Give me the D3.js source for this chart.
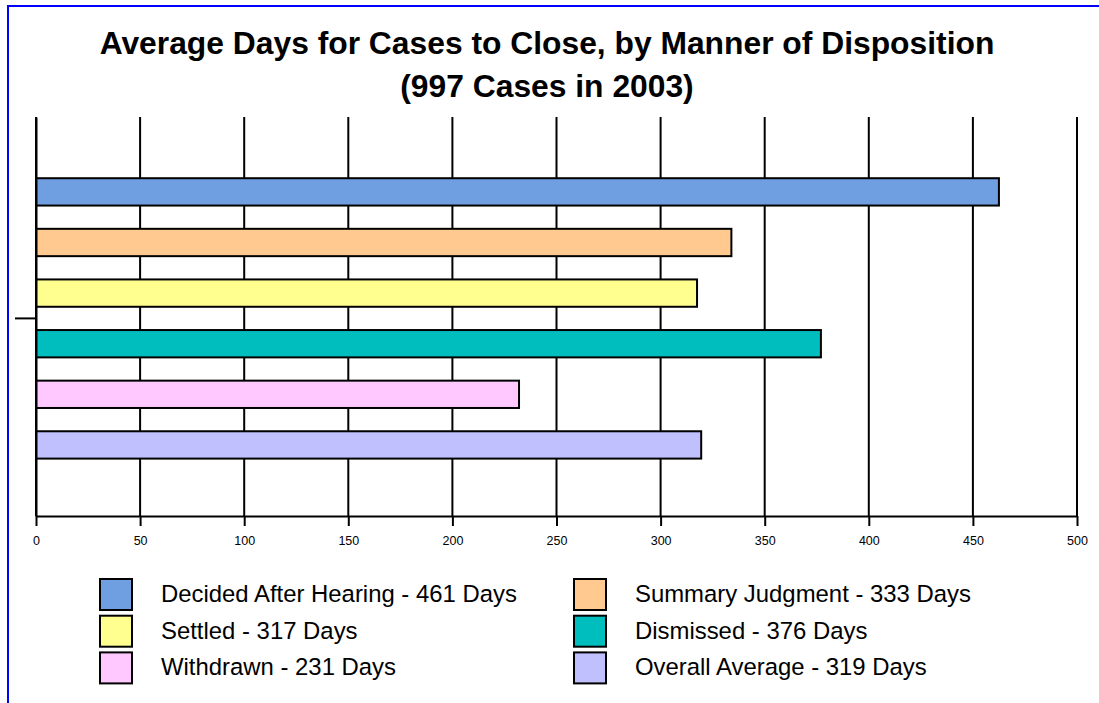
<!DOCTYPE html>
<html>
<head>
<meta charset="utf-8">
<script src="https://cdn.jsdelivr.net/npm/d3@7"></script>
<style>
    body { margin: 0; background: #ffffff; }
    svg { display: block; font-family: "Liberation Sans", Arial, sans-serif; }
</style>
</head>
<body>
<svg id="drawing_region"></svg>
<script>
const titleLines = ["Average Days for Cases to Close, by Manner of Disposition", "(997 Cases in 2003)"];
const groups = ["2003"];
const dispositions = ["Decided After Hearing", "Summary Judgment", "Settled", "Dismissed", "Withdrawn", "Overall Average"];
// bar lengths as drawn in the picture, and the rounded figures printed in the legend
const barDays = [462.5, 334, 317.5, 377, 232, 319.5];
const labelDays = [461, 333, 317, 376, 231, 319];
const barColors = ["#6f9fe0", "#ffc990", "#ffff90", "#00bebe", "#ffc8ff", "#c0c0ff"];
const xTicks = [0, 50, 100, 150, 200, 250, 300, 350, 400, 450, 500];

class DaysBarChart {

    constructor( config, data ) {
        this.config = {
            parent: config.parent,
            width: config.width || 256,
            height: config.height || 256,
            margin: config.margin || {top:10, right:10, bottom:10, left:10}
        }
        this.data = data;
        this.init();
    }

    init() {
        let self = this;

        self.svg = d3.select( self.config.parent )
            .attr('width', self.config.width)
            .attr('height', self.config.height);

        // blue frame (right and bottom edges fall outside the picture)
        self.svg.append('rect')
            .attr('x', 8)
            .attr('y', 6)
            .attr('width', self.config.width + 20)
            .attr('height', self.config.height + 20)
            .attr('fill', 'none')
            .attr('stroke', '#0000ff')
            .attr('stroke-width', 2);

        //Title
        self.svg.selectAll('.title')
            .data(titleLines)
            .enter()
            .append('text')
            .attr('class', 'title')
            .attr('text-anchor', 'middle')
            .attr('x', 547)
            .attr('y', (d, i) => 54 + i * 43)
            .style('font-size', '31.8px')
            .style('font-weight', 'bold')
            .text(d => d);

        self.chart = self.svg.append('g')
            .attr('transform', `translate(${self.config.margin.left}, ${self.config.margin.top})`);

        self.inner_width = self.config.width - self.config.margin.left - self.config.margin.right;
        self.inner_height = self.config.height - self.config.margin.top - self.config.margin.bottom;

        self.xscale = d3.scaleLinear()
            .domain([0, 500])
            .range([0, self.inner_width]);

        self.yscale = d3.scaleBand()
            .domain(groups)
            .range([0, self.inner_height])
            .paddingOuter(0.157)
            .align(0.52);

        self.yinner = d3.scaleBand()
            .domain(dispositions)
            .range([0, self.yscale.bandwidth()])
            .paddingInner(0.46)
            .paddingOuter(0.23);

        self.xaxis = d3.axisBottom( self.xscale )
            .tickValues(xTicks)
            .tickSize(10)
            .tickSizeOuter(0)
            .tickPadding(10);

        self.yaxis = d3.axisLeft( self.yscale )
            .tickSize(21)
            .tickSizeOuter(0)
            .tickFormat('');
    }

    render() {
        let self = this;

        // vertical grid lines
        self.chart.selectAll('.grid')
            .data(xTicks)
            .enter()
            .append('line')
            .attr('class', 'grid')
            .attr('x1', d => self.xscale(d))
            .attr('x2', d => self.xscale(d))
            .attr('y1', 0)
            .attr('y2', self.inner_height)
            .attr('stroke', '#000')
            .attr('stroke-width', 2);

        let cluster = self.chart.selectAll('.cluster')
            .data(groups)
            .enter()
            .append('g')
            .attr('class', 'cluster')
            .attr('transform', d => `translate(0, ${self.yscale(d)})`);

        cluster.selectAll('rect')
            .data(self.data)
            .enter()
            .append('rect')
            .attr('x', 0)
            .attr('y', d => self.yinner(d.name))
            .attr('width', d => self.xscale(d.value))
            .attr('height', self.yinner.bandwidth())
            .attr('fill', d => d.color)
            .attr('stroke', '#000')
            .attr('stroke-width', 2);

        self.xaxis_group = self.chart.append('g')
            .attr('transform', `translate(0, ${self.inner_height})`)
            .call( self.xaxis );
        self.xaxis_group.select('.domain').attr('stroke-width', 2);
        self.xaxis_group.selectAll('.tick line').attr('stroke-width', 2);
        self.xaxis_group.selectAll('.tick text')
            .attr('fill', '#000')
            .style('font-size', '12.5px')
            .style('font-family', '"Liberation Sans", Arial, sans-serif');

        self.yaxis_group = self.chart.append('g')
            .call( self.yaxis );
        self.yaxis_group.select('.domain').attr('stroke-width', 2);
        self.yaxis_group.selectAll('.tick line').attr('stroke-width', 2);

        // legend, two columns
        let legend = self.svg.selectAll('.legend')
            .data(self.data)
            .enter()
            .append('g')
            .attr('class', 'legend')
            .attr('transform', (d, i) => `translate(${100 + (i % 2) * 474}, ${579 + Math.floor(i / 2) * 36.7})`);

        legend.append('rect')
            .attr('width', 32)
            .attr('height', 31)
            .attr('fill', d => d.color)
            .attr('stroke', '#000')
            .attr('stroke-width', 2);

        legend.append('text')
            .attr('x', 61)
            .attr('y', 23)
            .style('font-size', '23.9px')
            .text(d => `${d.name} - ${d.label} Days`);
    }
}

const data = dispositions.map((name, i) => ({ name: name, value: barDays[i], label: labelDays[i], color: barColors[i] }));

var config = {
    parent: '#drawing_region',
    width: 1099,
    height: 703,
    margin: {top:117, right:22, bottom:187, left:36}
};

const bar_chart = new DaysBarChart( config, data );
bar_chart.render();
</script>
</body>
</html>
